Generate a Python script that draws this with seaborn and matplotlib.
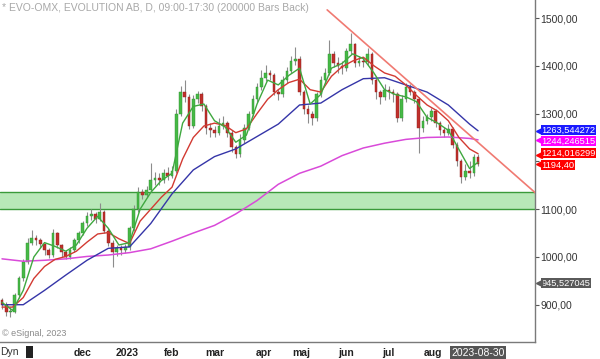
import numpy as np
import pandas as pd
import seaborn as sns
import matplotlib
matplotlib.use("Agg")
import matplotlib.pyplot as plt
from matplotlib.patches import Rectangle
import matplotlib.transforms as mtransforms

# trading calendar (Stockholm), one candle every second session
holidays = ["2022-12-26", "2023-01-06", "2023-04-07", "2023-04-10",
            "2023-05-01", "2023-05-18", "2023-06-06", "2023-06-23"]
days = pd.bdate_range("2022-10-10", "2023-08-30")
days = days[~days.isin(pd.to_datetime(holidays))]

first_open = 910
closes = [900, 885, 885, 920, 955, 990, 1030, 1040, 1035, 1028,
          1015, 1005, 1050, 1025, 1010, 1000, 1015, 1035, 1050, 1070,
          1085, 1090, 1080, 1095, 1055, 1030, 1010, 1018, 1015, 1020,
          1060, 1100, 1135, 1130, 1140, 1160, 1165, 1160, 1175, 1170,
          1180, 1300, 1345, 1335, 1275, 1330, 1340, 1315, 1270, 1265,
          1260, 1275, 1280, 1260, 1230, 1215, 1245, 1270, 1300, 1330,
          1355, 1375, 1385, 1380, 1345, 1340, 1370, 1390, 1410, 1415,
          1345, 1310, 1300, 1290, 1340, 1370, 1385, 1425, 1405, 1400,
          1395, 1430, 1445, 1405, 1410, 1408, 1425, 1370, 1345, 1335,
          1350, 1345, 1340, 1290, 1330, 1355, 1345, 1330, 1270, 1285,
          1292, 1305, 1280, 1265, 1260, 1268, 1235, 1200, 1168, 1180,
          1175, 1210, 1194.4]
highs = [915, 905, 895, 925, 960, 995, 1040, 1056, 1045, 1040,
         1030, 1018, 1058, 1052, 1028, 1015, 1020, 1040, 1055, 1075,
         1095, 1100, 1095, 1113, 1098, 1060, 1035, 1025, 1025, 1028,
         1065, 1108, 1146, 1142, 1148, 1197, 1178, 1175, 1185, 1188,
         1190, 1310, 1358, 1370, 1340, 1338, 1348, 1345, 1320, 1280,
         1275, 1290, 1295, 1285, 1265, 1235, 1258, 1278, 1305, 1338,
         1365, 1392, 1402, 1392, 1385, 1352, 1378, 1398, 1420, 1440,
         1420, 1350, 1318, 1305, 1345, 1378, 1395, 1454, 1430, 1418,
         1410, 1438, 1469, 1448, 1420, 1418, 1437, 1428, 1375, 1350,
         1362, 1358, 1352, 1345, 1338, 1365, 1362, 1350, 1335, 1295,
         1300, 1312, 1310, 1285, 1272, 1278, 1272, 1240, 1205, 1195,
         1200, 1215, 1215]
lows = [890, 876, 874, 882, 915, 950, 985, 1025, 1025, 1018,
        1005, 998, 1000, 1018, 1000, 995, 995, 1010, 1030, 1045,
        1065, 1078, 1072, 1075, 1050, 1022, 979, 1002, 1005, 1008,
        1015, 1055, 1095, 1122, 1125, 1135, 1150, 1150, 1155, 1162,
        1165, 1175, 1295, 1325, 1268, 1270, 1322, 1305, 1258, 1250,
        1250, 1255, 1268, 1250, 1220, 1207, 1210, 1238, 1265, 1295,
        1325, 1350, 1368, 1370, 1338, 1328, 1335, 1365, 1385, 1402,
        1338, 1300, 1280, 1276, 1285, 1335, 1365, 1380, 1398, 1385,
        1382, 1390, 1425, 1398, 1400, 1398, 1402, 1362, 1330, 1320,
        1328, 1330, 1325, 1283, 1285, 1325, 1338, 1322, 1218, 1262,
        1278, 1285, 1272, 1255, 1250, 1255, 1228, 1190, 1155, 1162,
        1165, 1170, 1190]

# moving averages (session index -> value)
slow_idx = list(range(0, 221, 10)) + [224]
ma_blue = [900, 900, 930, 962, 993, 1018, 1021, 1070, 1132, 1182, 1210, 1226,
           1252, 1278, 1318, 1322, 1350, 1373, 1375, 1360, 1345, 1318, 1278, 1264]
ma_magenta = [996, 991, 993, 996, 1001, 1004, 1009, 1017, 1033, 1050, 1066, 1090,
              1118, 1152, 1175, 1190, 1212, 1228, 1238, 1246, 1250, 1251, 1248, 1245]
fast_idx = list(range(0, 221, 5)) + [224]
ma_red = [895, 895, 915, 955, 980, 995, 1001, 1012, 1031, 1048, 1051, 1038,
          1028, 1075, 1100, 1125, 1146, 1205, 1250, 1274, 1280, 1275, 1260, 1268,
          1300, 1330, 1350, 1365, 1372, 1350, 1345, 1378, 1398, 1410, 1418, 1400,
          1385, 1378, 1360, 1338, 1318, 1305, 1285, 1250, 1226, 1216]
ma_green = [905, 888, 930, 1000, 1030, 1022, 1012, 1025, 1060, 1085, 1060, 1025,
            1030, 1100, 1135, 1160, 1175, 1280, 1315, 1320, 1285, 1272, 1240, 1255,
            1320, 1370, 1360, 1380, 1395, 1320, 1340, 1395, 1405, 1425, 1415, 1385,
            1350, 1340, 1335, 1325, 1292, 1280, 1265, 1225, 1185, 1198]

trend_idx = [153, 251]
trend_price = [1517, 1134]
zone = (1100, 1136)

labels = [(1263.544272, "1263,544272", "#1a1aff"),
          (1244.246515, "1244,246515", "#ff00ff"),
          (1214.016299, "1214,016299", "#ff0000"),
          (1194.40, "1194,40", "#ff0000"),
          (945.527045, "945,527045", "#5a5a5a")]
label_nudge = [0.5, -0.5, 1.0, -1.0, 0]  # points, keeps tags from touching

month_names = ["", "dec", "2023", "feb", "mar", "apr", "maj", "jun", "jul", "aug"]

sns.set_theme(style="white")
plt.rcParams['font.family'] = ['Liberation Sans', 'DejaVu Sans']

fig = plt.figure(figsize=(6.0, 3.59), dpi=100)
ax = fig.add_axes([0.0, 0.0474, 0.8917, 0.9526])

# support zone
ax.axhspan(zone[0], zone[1], facecolor="#b8e8b8", edgecolor="none", zorder=0)
for z in zone:
    ax.axhline(z, color="#3a9a3a", lw=1.0, zorder=1)

# candles
pos = np.arange(0, len(days), 2)
opens = [first_open] + closes[:-1]
o = np.array(opens, dtype=float)
c = np.array(closes, dtype=float)
ax.vlines(pos, lows, highs, color="#8c8c8c", lw=0.8, zorder=2)
up = c >= o
body = np.maximum(np.abs(c - o), 1.5)
ax.bar(pos[up], body[up], bottom=o[up], width=1.2, color="#46b946",
       edgecolor="#2f8f2f", linewidth=0.3, zorder=3)
ax.bar(pos[~up], body[~up], bottom=c[~up], width=1.2, color="#c0302c",
       edgecolor="#8e1f1c", linewidth=0.3, zorder=3)

# moving averages
sns.lineplot(x=slow_idx, y=ma_magenta, ax=ax, color="#d94ad9", lw=1.1, zorder=4)
sns.lineplot(x=slow_idx, y=ma_blue, ax=ax, color="#3535a8", lw=1.0, zorder=4)
sns.lineplot(x=fast_idx, y=ma_red, ax=ax, color="#d23a32", lw=1.0, zorder=4)
sns.lineplot(x=fast_idx, y=ma_green, ax=ax, color="#3fa83f", lw=1.0, zorder=4)
ax.plot(trend_idx, trend_price, color="#f07a72", lw=1.2, zorder=5)

ax.set_xlim(-0.94, 250.8)
ax.set_ylim(822, 1537.7)

# axes styling
for s in ["top", "left"]:
    ax.spines[s].set_visible(False)
for s in ["bottom", "right"]:
    ax.spines[s].set_color("#7a7a7a")
    ax.spines[s].set_linewidth(1.0)

ax.yaxis.tick_right()
yt = np.arange(900, 1501, 100)
ax.set_yticks(yt)
# 1200 sits under the value tags, so its text is left out
ax.set_yticklabels(["" if v == 1200 else f"{v:.2f}".replace(".", ",") for v in yt])
ax.tick_params(axis="y", direction="out", length=3, width=0.8, color="#555555",
               labelsize=7.5, labelcolor="#333333", pad=1)

month_starts = pd.date_range("2022-11-01", "2023-08-01", freq="MS")
xt = [int(np.searchsorted(days, m)) for m in month_starts]
ax.set_xticks(xt)
ax.set_xticklabels(month_names, fontweight="bold")
ax.tick_params(axis="x", direction="in", length=3, width=0.8, color="#999999",
               labelsize=7.5, labelcolor="#222222", pad=4)

# last date tag
tr = mtransforms.blended_transform_factory(ax.transData, ax.transAxes)
ax.text(len(days) - 1, -0.032, "2023-08-30", transform=tr, ha="center", va="center",
        fontsize=7.5, color="white", clip_on=False,
        bbox=dict(boxstyle="square,pad=0.15", facecolor="#555555", edgecolor="none"))

# value tags on the price scale
tr2 = mtransforms.blended_transform_factory(ax.transAxes, ax.transData)
for (val, txt, col), dy in zip(labels, label_nudge):
    ax.annotate(txt, xy=(1.012, val), xycoords=tr2, xytext=(0, dy),
                textcoords="offset points", ha="left", va="center", fontsize=6.7,
                color="white", annotation_clip=False, zorder=10,
                bbox=dict(boxstyle="square,pad=0.05", facecolor=col, edgecolor="none"))
    ax.plot([1.008], [val], marker="<", ms=4.2, color=col, transform=tr2,
            clip_on=False, zorder=10)

fig.text(0.004, 0.978, "* EVO-OMX, EVOLUTION AB, D, 09:00-17:30 (200000 Bars Back)",
         fontsize=7.5, color="#a8a8a8", va="center", ha="left")
fig.text(0.004, 0.070, "© eSignal, 2023", fontsize=6.5, color="#8a8a8a",
         va="center", ha="left")
fig.text(0.0, 0.02, "Dyn", fontsize=7.5, color="#333333", va="center", ha="left")
fig.patches.append(Rectangle((0.044, 0.004), 0.011, 0.032, transform=fig.transFigure,
                             facecolor="#222222", edgecolor="none"))

fig.savefig("out.png", dpi=100, facecolor="white")
